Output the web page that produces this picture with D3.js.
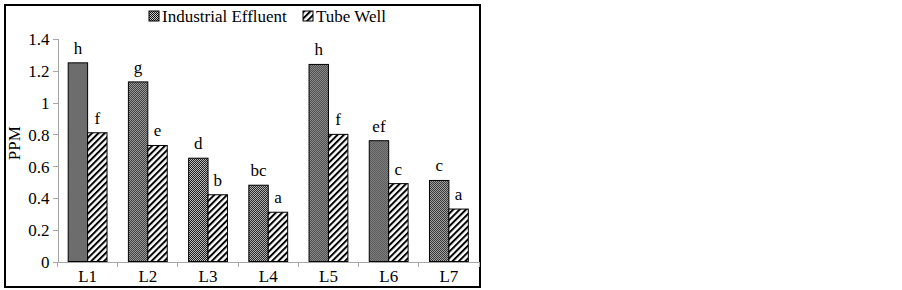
<!DOCTYPE html>
<html lang="en">
<head>
    <meta charset="UTF-8">
    <title>PPM by location</title>
    <style>
        body {
            margin: 0;
            padding: 0;
            background-color: #fff;
        }
        svg text {
            font-family: "Liberation Serif", "DejaVu Serif", serif;
            fill: #000;
        }
        .axis path,
        .axis line {
            fill: none;
            stroke: #a6a6a6;
            shape-rendering: crispEdges;
        }
    </style>
</head>
<body>

<div id="chart"></div>

<script src="https://d3js.org/d3.v7.min.js"></script>
<script>
    // Values
    const categories = ["L1", "L2", "L3", "L4", "L5", "L6", "L7"];
    const seriesNames = ["Industrial Effluent", "Tube Well"];
    const effluent = [1.25, 1.13, 0.65, 0.48, 1.24, 0.76, 0.51];
    const tubeWell = [0.81, 0.73, 0.42, 0.31, 0.80, 0.49, 0.33];
    const effluentLetters = ["h", "g", "d", "bc", "h", "ef", "c"];
    const tubeWellLetters = ["f", "e", "b", "a", "f", "c", "a"];
    const yTicks = [0, 0.2, 0.4, 0.6, 0.8, 1, 1.2, 1.4];

    const serif = "'Liberation Serif', 'DejaVu Serif', serif";
    const fontSize = 17;
    const svgW = 902, svgH = 290;
    const margin = {top: 39, left: 57.5, right: 423, bottom: 28.5};
    const width = svgW - margin.left - margin.right,
          height = svgH - margin.top - margin.bottom;

    const root = d3.select("#chart")
        .append("svg")
        .attr("width", svgW)
        .attr("height", svgH)
        .attr("font-family", serif);

    // fill patterns
    const defs = root.append("defs");
    const dots = defs.append("pattern")
        .attr("id", "dots")
        .attr("patternUnits", "userSpaceOnUse")
        .attr("width", 2).attr("height", 2);
    dots.append("rect").attr("width", 2).attr("height", 2).attr("fill", "#c8c8c8");
    dots.append("rect").attr("width", 1).attr("height", 1).attr("fill", "#111");
    dots.append("rect").attr("x", 1).attr("y", 1).attr("width", 1).attr("height", 1).attr("fill", "#111");

    const hatch = defs.append("pattern")
        .attr("id", "hatch")
        .attr("patternUnits", "userSpaceOnUse")
        .attr("width", 4.5).attr("height", 4.5)
        .attr("patternTransform", "rotate(45)");
    hatch.append("rect").attr("width", 4.5).attr("height", 4.5).attr("fill", "#fff");
    hatch.append("rect").attr("width", 2).attr("height", 4.5).attr("fill", "#000");

    const fills = ["url(#dots)", "url(#hatch)"];

    // outer frame
    root.append("rect")
        .attr("x", 5).attr("y", 5)
        .attr("width", 475).attr("height", 282)
        .attr("fill", "none")
        .attr("stroke", "#000")
        .attr("stroke-width", 2);

    const svg = root.append("g")
        .attr("transform", `translate(${margin.left},${margin.top})`);

    const x = d3.scaleBand()
        .domain(categories)
        .range([0, width]);

    const inner = d3.scaleBand()
        .domain(seriesNames)
        .range([0, x.bandwidth()])
        .paddingInner(0)
        .paddingOuter(0.33 / 0.6);

    const y = d3.scaleLinear()
        .domain([0, 1.4])
        .range([height, 0]);

    // y axis
    const yAxis = svg.append("g")
        .attr("class", "axis")
        .call(d3.axisLeft(y).tickValues(yTicks).tickSize(5).tickPadding(3).tickFormat(d3.format("~g")));
    yAxis.attr("font-family", serif).attr("font-size", fontSize);
    yAxis.selectAll("text").attr("dy", "0.35em");

    // x axis with ticks at category boundaries
    const xAxis = svg.append("g")
        .attr("class", "axis")
        .attr("transform", `translate(0,${height})`)
        .call(d3.axisBottom(x).tickSize(0).tickPadding(8));
    xAxis.attr("font-family", serif).attr("font-size", fontSize);
    xAxis.selectAll(".boundary")
        .data(d3.range(categories.length + 1))
        .enter()
        .append("line")
        .attr("class", "boundary")
        .attr("x1", i => i * x.step())
        .attr("x2", i => i * x.step())
        .attr("y1", 0)
        .attr("y2", 5);

    svg.append("text")
        .attr("transform", "rotate(-90)")
        .attr("x", -height / 2 + 7)
        .attr("y", -38)
        .attr("text-anchor", "middle")
        .style("font-size", fontSize + "px")
        .text("PPM");

    const rows = categories.map((c, i) => ({
        cat: c,
        vals: [
            {s: seriesNames[0], v: effluent[i], lab: effluentLetters[i]},
            {s: seriesNames[1], v: tubeWell[i], lab: tubeWellLetters[i]}
        ]
    }));

    const groups = svg.selectAll(".grp")
        .data(rows)
        .enter()
        .append("g")
        .attr("class", "grp")
        .attr("transform", d => `translate(${x(d.cat)},0)`);

    groups.selectAll("rect")
        .data(d => d.vals)
        .enter()
        .append("rect")
        .attr("x", d => inner(d.s))
        .attr("y", d => y(d.v))
        .attr("width", inner.bandwidth())
        .attr("height", d => height - y(d.v))
        .attr("fill", (d, i) => fills[i])
        .attr("stroke", "#000")
        .attr("stroke-width", 1);

    groups.selectAll(".lab")
        .data(d => d.vals)
        .enter()
        .append("text")
        .attr("class", "lab")
        .attr("x", d => inner(d.s) + inner.bandwidth() / 2)
        .attr("y", d => y(d.v) - 9)
        .attr("text-anchor", "middle")
        .style("font-size", fontSize + "px")
        .text(d => d.lab);

    // legend
    const legendX = [149, 303];
    const legend = root.selectAll(".legend")
        .data(seriesNames)
        .enter()
        .append("g")
        .attr("class", "legend")
        .attr("transform", (d, i) => `translate(${legendX[i]},11)`);
    legend.append("rect")
        .attr("width", 10).attr("height", 10)
        .attr("fill", (d, i) => fills[i])
        .attr("stroke", "#000");
    legend.append("text")
        .attr("x", 13)
        .attr("y", 10.5)
        .style("font-size", fontSize + "px")
        .text(d => d);
</script>

</body>
</html>
